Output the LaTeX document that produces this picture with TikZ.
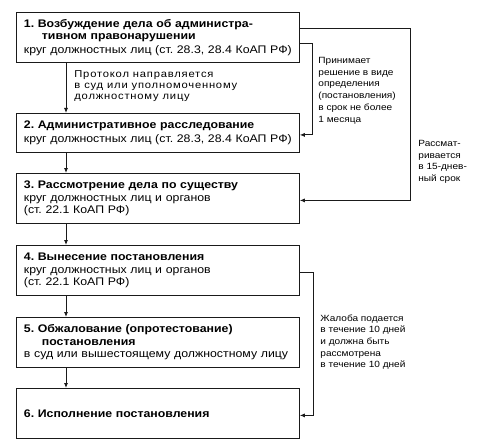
\documentclass[tikz,border=0pt]{standalone}
\usepackage{fontspec}
\setmainfont[FakeStretch=1.12]{Liberation Sans}
\usetikzlibrary{arrows.meta, positioning, calc}
\definecolor{ink}{HTML}{1A1A1A}
\frenchspacing

\begin{document}
\begin{tikzpicture}[x=1pt, y=-1pt, line width=.8pt, draw=ink,
    stagebox/.style={draw, rectangle, anchor=north west, align=left,
      text width=268pt, inner xsep=7.5pt, inner ysep=2pt,
      font=\fontsize{11}{12.5}\selectfont},
    note/.style={anchor=north west, align=left, inner sep=0pt,
      font=\fontsize{9}{11.7}\selectfont},
    arr/.style={-{Latex[length=5pt, width=4pt]}}]
  \useasboundingbox (0,0) rectangle (495,441);
  % stages
  \node[stagebox, minimum height=50pt] (b1) at (16,12)
    {\textbf{1. Возбуждение дела об администра-}\\
     \hspace*{18pt}\textbf{тивном правонарушении}\\[1.5pt]
     круг должностных лиц (ст. 28.3, 28.4 КоАП РФ)};
  \node[stagebox, minimum height=39pt] (b2) at (16,113)
    {\textbf{2. Административное расследование}\\[2pt]
     круг должностных лиц (ст. 28.3, 28.4 КоАП РФ)};
  \node[stagebox, minimum height=50pt] (b3) at (16,173)
    {\textbf{3. Рассмотрение дела по существу}\\
     круг должностных лиц и органов\\
     (ст. 22.1 КоАП РФ)};
  \node[stagebox, minimum height=50pt] (b4) at (16,245)
    {\textbf{4. Вынесение постановления}\\
     круг должностных лиц и органов\\
     (ст. 22.1 КоАП РФ)};
  \node[stagebox, minimum height=50pt] (b5) at (16,317)
    {\textbf{5. Обжалование (опротестование)}\\
     \hspace*{18pt}\textbf{постановления}\\
     в суд или вышестоящему должностному лицу};
  \node[stagebox, minimum height=50pt] (b6) at (16,388)
    {\textbf{6. Исполнение постановления}};
  % main line
  \coordinate (axis) at (66,0);
  \foreach \a/\b in {b1/b2, b2/b3, b3/b4, b4/b5, b5/b6}
    \draw[arr] (\a.south -| axis) -- (\b.north -| axis);
  % side lines
  \coordinate (railA) at (312,0);
  \coordinate (railB) at (410,0);
  \coordinate (railC) at (313,0);
  \coordinate (in2) at ([yshift=-2pt]b2.east);
  \coordinate (in3) at ([yshift=-2pt]b3.east);
  \coordinate (in6) at ([yshift=-2pt]b6.east);
  \draw[arr] ([yshift=-6pt]b1.east) -| (railA |- in2) -- (in2);
  \draw[arr] ([yshift=9pt]b1.east) -| (railB |- in3) -- (in3);
  \draw[arr] ([yshift=-2pt]b4.east) -| (railC |- in6) -- (in6);
  % notes
  \node[note, font=\fontsize{10}{11}\selectfont\addfontfeature{LetterSpace=8}] (n12) at (74,70)
    {Протокол направляется\\в суд или уполномоченному\\должностному лицу};
  \node[note] (n2) at (318,57)
    {Принимает\\решение в виде\\определения\\(постановления)\\в срок не более\\1 месяца};
  \node[note] (n3) at (418,140)
    {Рассмат-\\ривается\\в 15-днев-\\ный срок};
  \node[note] (n6) at (320,314)
    {Жалоба подается\\в течение 10 дней\\и должна быть\\рассмотрена\\в течение 10 дней};
\end{tikzpicture}
\end{document}
